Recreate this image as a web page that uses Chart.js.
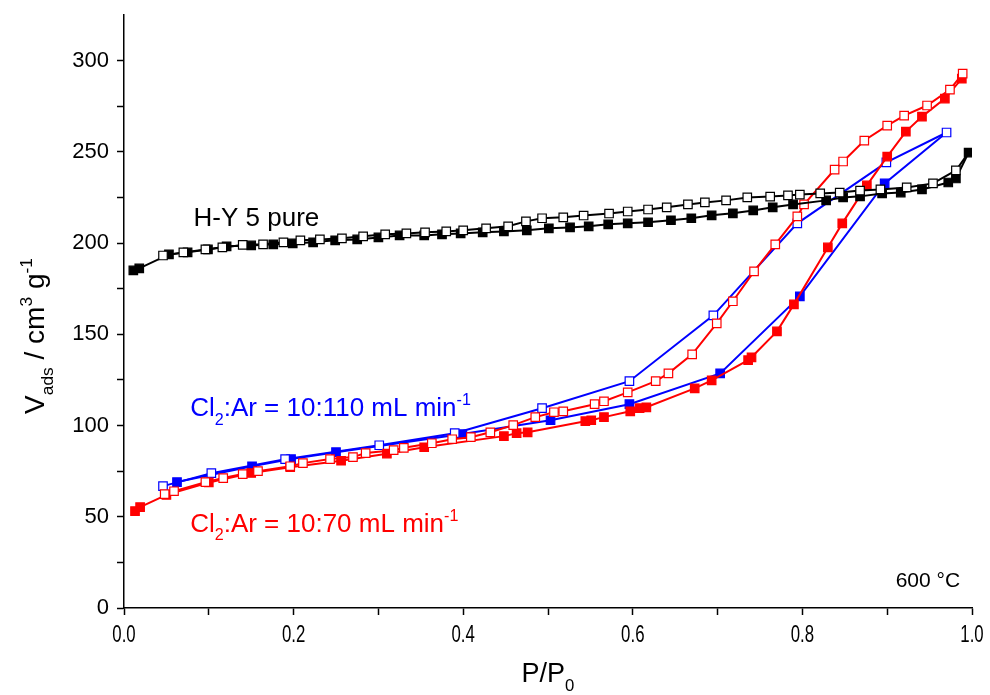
<!DOCTYPE html>
<html>
<head>
<meta charset="utf-8">
<script src="https://cdn.jsdelivr.net/npm/chart.js@4.4.1/dist/chart.umd.min.js"></script>
<style>
  html, body { margin: 0; padding: 0; background: #fff; }
  #wrap { width: 990px; height: 695px; }
</style>
</head>
<body>
<div id="wrap"><canvas id="grafico" width="990" height="695"></canvas></div>
<script>
// H-Y 5 pure: adsorcao (cheio) e dessorcao (vazio)
const hyAdsP = [0.011,0.018,0.053,0.075,0.099,0.121,0.150,0.176,0.199,0.223,0.249,0.275,0.300,0.325,0.354,0.375,0.397,0.423,0.448,0.475,0.501,0.526,0.548,0.571,0.594,0.618,0.645,0.669,0.693,0.718,0.742,0.765,0.789,0.828,0.848,0.868,0.894,0.916,0.941,0.972,0.981,0.996];
const hyAdsV = [185.0,186.1,193.8,194.9,196.5,198.2,198.7,199.3,199.8,200.4,201.5,202.0,203.1,204.2,204.2,204.8,205.3,205.9,206.4,207.0,208.1,208.6,209.2,210.3,210.8,211.4,212.5,213.6,215.2,216.3,217.9,219.6,221.2,223.4,225.0,225.6,227.2,227.7,229.4,233.2,235.4,249.6];
const hyDesP = [0.996,0.981,0.954,0.923,0.892,0.868,0.844,0.821,0.797,0.783,0.762,0.735,0.710,0.685,0.665,0.640,0.618,0.594,0.572,0.542,0.518,0.493,0.474,0.453,0.427,0.400,0.380,0.355,0.333,0.308,0.282,0.257,0.231,0.208,0.188,0.164,0.140,0.116,0.096,0.070,0.046];
const hyDesV = [249.6,239.8,232.7,230.5,229.4,228.8,227.7,227.2,226.6,226.1,225.5,225.0,223.4,222.3,221.2,219.6,218.4,217.3,216.2,215.1,214.1,213.6,211.9,209.2,208.1,207.0,206.4,205.9,205.3,204.8,203.7,202.6,202.0,201.5,200.4,199.3,199.0,197.6,196.5,194.9,193.2];

// Cl2:Ar = 10:110
const azulAdsP = [0.0625,0.151,0.197,0.250,0.399,0.503,0.596,0.703,0.797,0.897,0.970];
const azulAdsV = [69.0,77.7,81.6,85.4,95.3,102.9,111.7,128.6,170.8,232.7,260.6];
const azulDesP = [0.970,0.899,0.794,0.695,0.596,0.493,0.390,0.301,0.190,0.103,0.046];
const azulDesV = [260.6,244.2,210.8,160.4,124.3,109.5,95.8,89.2,81.6,73.9,66.8];

// Cl2:Ar = 10:70
const vermAdsP = [0.013,0.019,0.050,0.100,0.150,0.196,0.256,0.310,0.354,0.448,0.463,0.476,0.544,0.551,0.566,0.597,0.608,0.616,0.673,0.693,0.736,0.740,0.770,0.790,0.830,0.847,0.876,0.900,0.922,0.941,0.968,0.988];
const vermAdsV = [53.1,55.3,62.0,68.8,74.0,77.2,80.7,84.6,88.1,94.2,95.8,96.3,102.4,102.9,104.6,107.8,109.5,110.0,120.4,124.8,135.8,137.4,151.6,166.4,197.6,210.8,231.6,247.4,261.1,269.3,279.2,290.1];
const vermDesP = [0.989,0.974,0.947,0.920,0.900,0.873,0.848,0.838,0.802,0.794,0.768,0.743,0.718,0.699,0.670,0.642,0.627,0.594,0.566,0.555,0.518,0.507,0.485,0.459,0.432,0.409,0.387,0.363,0.330,0.318,0.285,0.270,0.243,0.211,0.196,0.158,0.140,0.117,0.096,0.059,0.048];
const vermDesV = [292.9,284.1,275.4,269.9,264.4,256.2,244.7,240.3,221.2,214.6,199.3,184.5,168.1,156.0,139.0,128.6,124.3,118.2,113.3,111.7,107.8,107.3,104.6,100.2,96.3,93.6,92.5,90.3,87.8,86.5,84.9,82.7,81.6,79.4,77.7,75.0,73.4,71.2,69.0,64.0,62.4];

const xTicks = [0,0.1,0.2,0.3,0.4,0.5,0.6,0.7,0.8,0.9,1.0];
const xLabels = ['0.0','','0.2','','0.4','','0.6','','0.8','','1.0'];
const yTicks = [0,25,50,75,100,125,150,175,200,225,250,275,300];

const PRETO = '#000000', AZUL = '#0000ff', VERMELHO = '#ff0000';
const FONTE = '"Liberation Sans", Arial, sans-serif';

const pts = (xs, ys) => xs.map((x, i) => ({x, y: ys[i]}));

// serie: cheio = adsorcao, vazio = dessorcao; "semPonto" esconde o marcador de um indice
function serie(xs, ys, cor, cheio, semPonto) {
  return {
    data: pts(xs, ys),
    showLine: true,
    borderColor: cor,
    borderWidth: 2,
    pointStyle: 'rect',
    pointRadius: ctx => ctx.dataIndex === semPonto ? 0 : 6,
    pointBorderWidth: 1.2,
    pointBorderColor: cor,
    pointBackgroundColor: cheio ? cor : '#ffffff',
    tension: 0
  };
}

// texto com sub/sobrescrito
function textoRico(ctx, partes, x, y, tam, cor, alinhar) {
  ctx.save();
  ctx.fillStyle = cor;
  ctx.textBaseline = 'alphabetic';
  ctx.textAlign = 'left';
  let larg = 0;
  partes.forEach(p => {
    const t = p.m ? tam * 0.62 : tam;
    ctx.font = `${t}px ${FONTE}`;
    p.w = ctx.measureText(p.t).width;
    larg += p.w;
  });
  let cx = alinhar === 'center' ? x - larg / 2 : alinhar === 'right' ? x - larg : x;
  partes.forEach(p => {
    const t = p.m ? tam * 0.62 : tam;
    ctx.font = `${t}px ${FONTE}`;
    let dy = 0;
    if (p.m === 'sub') dy = tam * 0.32;
    if (p.m === 'sup') dy = -tam * 0.42;
    ctx.fillText(p.t, cx, y + dy);
    cx += p.w;
  });
  ctx.restore();
}

const textos = {
  id: 'textos',
  afterDraw(chart) {
    const {ctx, scales: {x, y}} = chart;
    textoRico(ctx, [{t: 'H-Y 5 pure'}], x.getPixelForValue(0.082), y.getPixelForValue(209.5), 26, PRETO, 'left');
    textoRico(ctx, [{t: 'Cl'}, {t: '2', m: 'sub'}, {t: ':Ar = 10:110 mL min'}, {t: '-1', m: 'sup'}],
      x.getPixelForValue(0.078), y.getPixelForValue(105), 26, AZUL, 'left');
    textoRico(ctx, [{t: 'Cl'}, {t: '2', m: 'sub'}, {t: ':Ar = 10:70 mL min'}, {t: '-1', m: 'sup'}],
      x.getPixelForValue(0.078), y.getPixelForValue(41.6), 26, VERMELHO, 'left');
    textoRico(ctx, [{t: '600 °C'}], x.getPixelForValue(0.986), y.getPixelForValue(11.5), 21, PRETO, 'right');

    // rotulos do eixo x em fonte estreita
    ctx.save();
    ctx.font = `24px ${FONTE}`;
    ctx.fillStyle = PRETO;
    ctx.textAlign = 'center';
    ctx.textBaseline = 'alphabetic';
    xTicks.forEach((v, i) => {
      if (!xLabels[i]) return;
      const px = x.getPixelForValue(v);
      ctx.save();
      ctx.translate(px, 642);
      ctx.scale(0.7, 1);
      ctx.fillText(xLabels[i], 0, 0);
      ctx.restore();
    });
    ctx.restore();

    // titulos dos eixos
    textoRico(ctx, [{t: 'P/P'}, {t: '0', m: 'sub'}], (x.left + x.right) / 2, 682, 27, PRETO, 'center');
    ctx.save();
    ctx.translate(44, 336);
    ctx.rotate(-Math.PI / 2);
    textoRico(ctx, [{t: 'V'}, {t: 'ads', m: 'sub'}, {t: ' / cm'}, {t: '3', m: 'sup'}, {t: ' g'}, {t: '-1', m: 'sup'}], 0, 0, 28, PRETO, 'center');
    ctx.restore();
  }
};

new Chart(document.getElementById('grafico'), {
  type: 'scatter',
  data: {
    datasets: [
      serie(hyDesP, hyDesV, PRETO, false, 0),
      serie(hyAdsP, hyAdsV, PRETO, true, -1),
      serie(vermDesP, vermDesV, VERMELHO, false, -1),
      serie(vermAdsP, vermAdsV, VERMELHO, true, -1),
      serie(azulDesP, azulDesV, AZUL, false, -1),
      serie(azulAdsP, azulAdsV, AZUL, true, azulAdsP.length - 1)
    ]
  },
  options: {
    responsive: false,
    animation: false,
    layout: { padding: { top: 15, right: 18, left: 0, bottom: 0 } },
    plugins: { legend: { display: false }, tooltip: { enabled: false } },
    scales: {
      x: {
        type: 'linear', min: 0, max: 1,
        afterBuildTicks: s => { s.ticks = xTicks.map(v => ({value: v})); },
        afterFit: s => { s.height = 87; s.paddingLeft = 0; s.paddingRight = 0; },
        border: { display: true, color: PRETO, width: 1.5 },
        grid: { drawOnChartArea: false, drawTicks: true, tickLength: 7, color: PRETO, tickWidth: 1.5 },
        ticks: { color: PRETO, callback: () => '' }
      },
      y: {
        type: 'linear', min: 0, max: 325,
        afterBuildTicks: s => { s.ticks = yTicks.map(v => ({value: v})); },
        afterFit: s => { s.width = 124; s.paddingTop = 0; s.paddingBottom = 0; },
        border: { display: true, color: PRETO, width: 1.5 },
        grid: { drawOnChartArea: false, drawTicks: true, tickLength: 7, color: PRETO, tickWidth: 1.5 },
        ticks: {
          padding: 8, color: PRETO,
          font: { family: FONTE, size: 22 },
          callback: v => v % 50 === 0 ? v : ''
        }
      }
    }
  },
  plugins: [textos]
});
</script>
</body>
</html>
